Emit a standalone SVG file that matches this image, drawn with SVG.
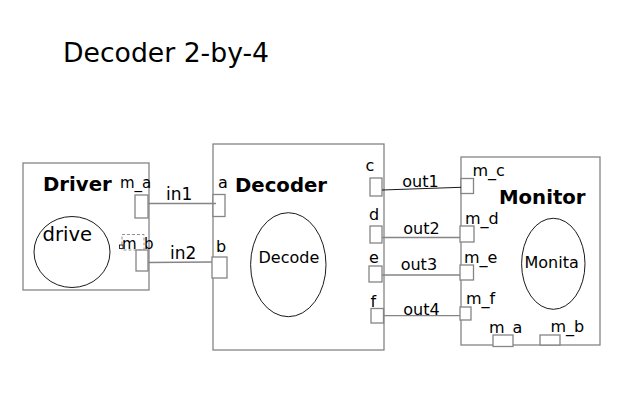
<svg xmlns="http://www.w3.org/2000/svg" width="617" height="403" viewBox="0 0 617 403">
<style>
.box{fill:#fff;stroke:#858585;stroke-width:1.3}
.port{fill:#fff;stroke:#858585;stroke-width:1.3}
.ell{fill:#fff;stroke:#000;stroke-width:0.9}
.wire{stroke:#858585;stroke-width:1.3;fill:none}
text{font-family:"DejaVu Sans","Liberation Sans",sans-serif;fill:#000}
.t{font-size:26.67px}
.b{font-size:19.7px;font-weight:bold}
.l{font-size:16px}
.s{font-size:15px}
.w{font-size:17px}
</style>
<rect width="617" height="403" fill="#fff"/>
<text class="t" x="63" y="62">Decoder 2-by-4</text>

<g id="driver">
<rect class="box" x="23" y="163" width="126" height="127"/>
<text class="b" x="43" y="191">Driver</text>
<ellipse class="ell" cx="72" cy="252" rx="38" ry="35.5"/>
<text x="42.5" y="241" style="font-size:19.6px">drive</text>
<text class="s" x="120" y="188">m_a</text>
<rect class="port" x="135" y="195" width="13" height="23"/>
<text class="s" x="122" y="248.5">m_b</text>
<rect x="122" y="234.5" width="22" height="15.5" fill="none" stroke="#777" stroke-width="0.8" stroke-dasharray="3,2"/>
<rect x="119.5" y="245" width="3.5" height="3.5" fill="#fff" stroke="#000" stroke-width="0.8"/>
<rect class="port" x="136" y="250" width="12" height="21"/>
</g>

<g id="decoder">
<rect class="box" x="213" y="144" width="171" height="206"/>
<text class="b" x="235" y="191.5">Decoder</text>
<ellipse class="ell" cx="288.3" cy="264.7" rx="37.7" ry="52"/>
<text class="l" x="258.5" y="263">Decode</text>
<text class="l" x="218" y="188">a</text>
<rect class="port" x="213" y="194.5" width="12" height="22"/>
<text class="l" x="216" y="251.5">b</text>
<rect class="port" x="212" y="257" width="15" height="21"/>
<text class="l" x="365.5" y="171">c</text>
<rect class="port" x="370" y="178" width="12" height="18"/>
<text class="l" x="369" y="220">d</text>
<rect class="port" x="370" y="226" width="12" height="17"/>
<text class="l" x="369" y="263">e</text>
<rect class="port" x="369" y="266" width="13" height="16"/>
<text class="l" x="370.5" y="306.5">f</text>
<rect class="port" x="371" y="308.5" width="12.5" height="14.5"/>
</g>

<g id="monitor">
<rect class="box" x="461" y="157" width="139" height="188"/>
<text class="b" x="499" y="204">Monitor</text>
<ellipse class="ell" cx="553.3" cy="263.8" rx="31.7" ry="45.5"/>
<text class="l" x="524.5" y="268">Monita</text>
<text class="l" x="472.5" y="176">m_c</text>
<rect class="port" x="461" y="178.5" width="12.5" height="15"/>
<text class="l" x="465" y="224">m_d</text>
<rect class="port" x="460" y="226" width="14" height="16"/>
<text class="l" x="464" y="263">m_e</text>
<rect class="port" x="460" y="265" width="13.5" height="15"/>
<text class="l" x="466" y="304">m_f</text>
<rect class="port" x="460" y="307" width="11" height="13"/>
<text class="l" x="489" y="332.5">m_a</text>
<rect class="port" x="493" y="335" width="20" height="11.5"/>
<text class="l" x="550.5" y="331.5">m_b</text>
<rect class="port" x="540" y="335" width="20" height="10"/>
</g>

<g id="connectors">
<line class="wire" x1="148" y1="203.5" x2="216" y2="203.5"/>
<text class="w" x="166" y="200">in1</text>
<line class="wire" x1="148" y1="262.5" x2="212" y2="262"/>
<text class="w" x="170" y="259">in2</text>
<line x1="382" y1="190" x2="461" y2="187.3" stroke="#000" stroke-width="0.9"/>
<text class="l" x="402.3" y="186.5">out1</text>
<line class="wire" x1="382" y1="237.5" x2="460" y2="237.5"/>
<text class="l" x="403.3" y="233.5">out2</text>
<line class="wire" x1="382" y1="275" x2="460" y2="275"/>
<text class="l" x="400.7" y="270">out3</text>
<line class="wire" x1="383.5" y1="315.7" x2="460" y2="315.7"/>
<text class="l" x="403.3" y="315">out4</text>
</g>
</svg>
